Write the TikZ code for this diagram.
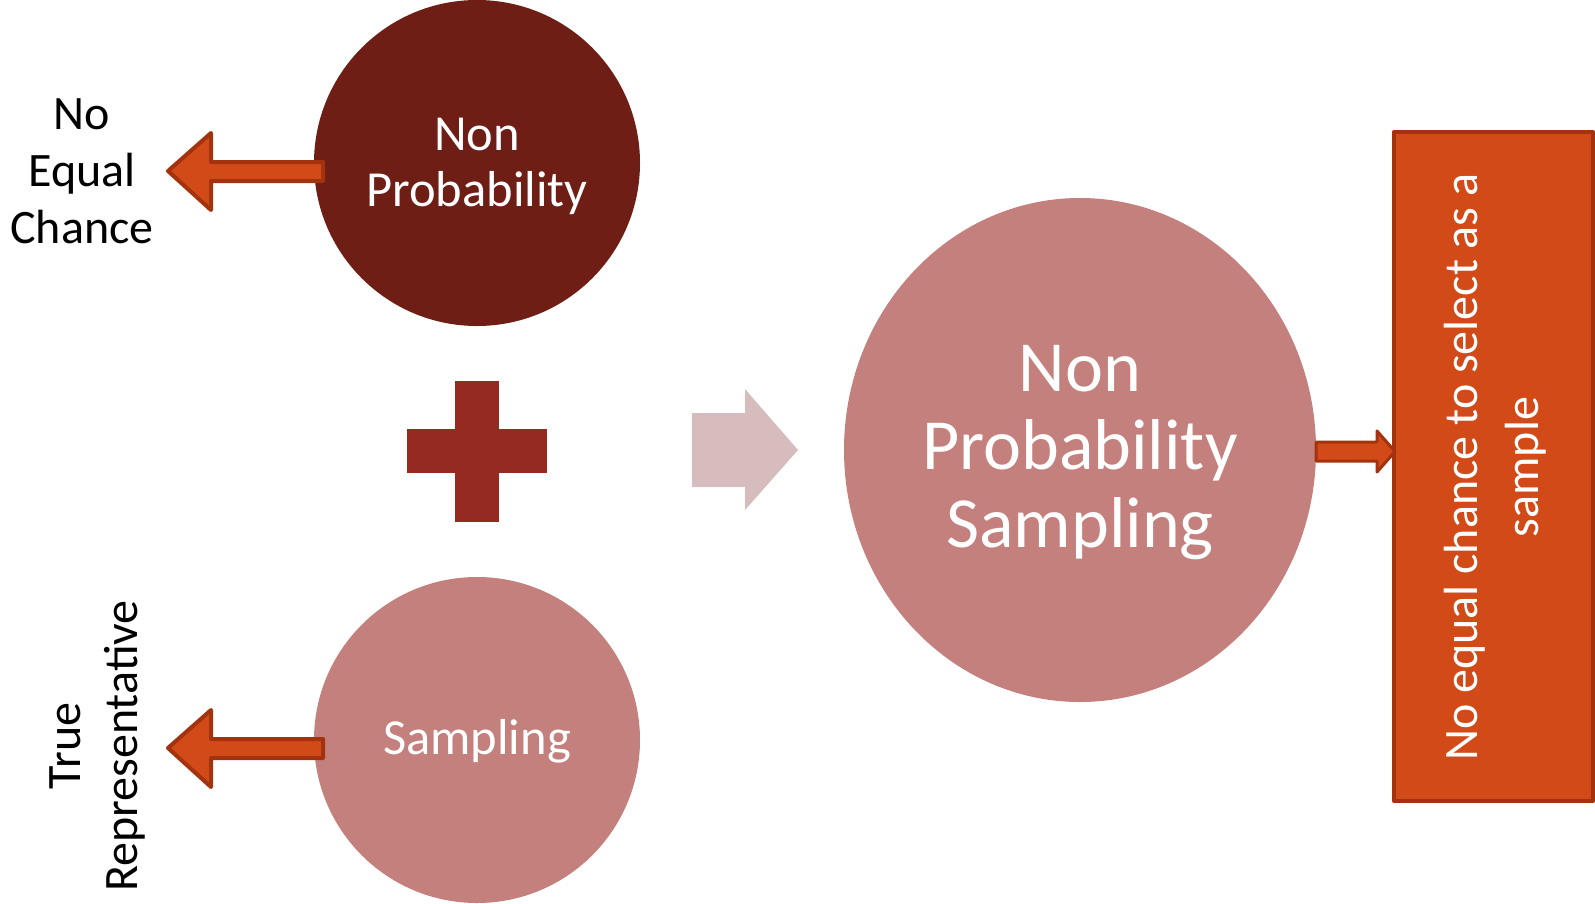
\documentclass[tikz,border=0pt]{standalone}
\usepackage{fontspec}
\setmainfont{Carlito}
\usetikzlibrary{shapes.geometric}
\definecolor{darkmaroon}{HTML}{6F1E16}
\definecolor{rosec}{HTML}{C4807C}
\definecolor{palerose}{HTML}{D6BCBC}
\definecolor{orangec}{HTML}{D24A17}
\definecolor{orangeborder}{HTML}{A2330E}
\definecolor{plusc}{HTML}{952A20}
\tikzset{
  circ/.style={circle, minimum size=326pt, inner sep=0pt, text=white, align=center,
    font=\fontsize{50.5}{56}\selectfont},
  bigtext/.style={inner sep=0pt, text=white, align=center, font=\fontsize{72}{78}\selectfont},
  label48/.style={align=center, font=\fontsize{48}{57}\selectfont, text=black},
  blockarrow/.style={fill=orangec, draw=orangeborder, line width=4pt, line join=round},
  orangebox/.style={fill=orangec, draw=orangeborder, line width=4pt, line join=round}
}
\begin{document}
\begin{tikzpicture}[x=1pt,y=-1pt]
\useasboundingbox (0,0) rectangle (1595,903);
% circles
\fill[darkmaroon] (477,163) circle (163);
\node[circ] (np) at (477,166) {Non\\Probability};
\fill[rosec] (477,740) circle (163);
\node[circ] (samp) at (477,741) {Sampling};
\fill[rosec] (1080,450) ellipse [x radius=236, y radius=252];
\node[bigtext] (nps) at (1080,453) {Non\\Probability\\Sampling};
% outside labels
\node[label48] (nec) at (82,171) {No\\Equal\\Chance};
\node[label48, rotate=90] (tr) at (97,746) {True\\Representative};
% rectangle
\draw[orangebox] (1394,132) rectangle (1593,801);
\node[rotate=90, align=center, text=white, font=\fontsize{48}{61}\selectfont] (rtext) at (1495,467)
  {No equal chance to select as a\\sample};
% plus sign
\fill[plusc] (407,429) rectangle (547,473);
\fill[plusc] (455,381) rectangle (499,522);
% pale arrow
\fill[palerose] (692,413) -- (745,413) -- (745,389) -- (798,450) -- (745,510) -- (745,487) -- (692,487) -- cycle;
% left arrows
\draw[blockarrow] (168,171) -- (211,133) -- (211,162) -- (323,162) -- (323,181) -- (211,181) -- (211,210) -- cycle;
\draw[blockarrow] (168,748) -- (211,710) -- (211,739) -- (323,739) -- (323,758) -- (211,758) -- (211,787) -- cycle;
% right small arrow
\draw[blockarrow, line width=3pt] (1316,442) -- (1377,442) -- (1377,431) -- (1395,451.5) -- (1377,472) -- (1377,461) -- (1316,461) -- cycle;
\end{tikzpicture}
\end{document}
